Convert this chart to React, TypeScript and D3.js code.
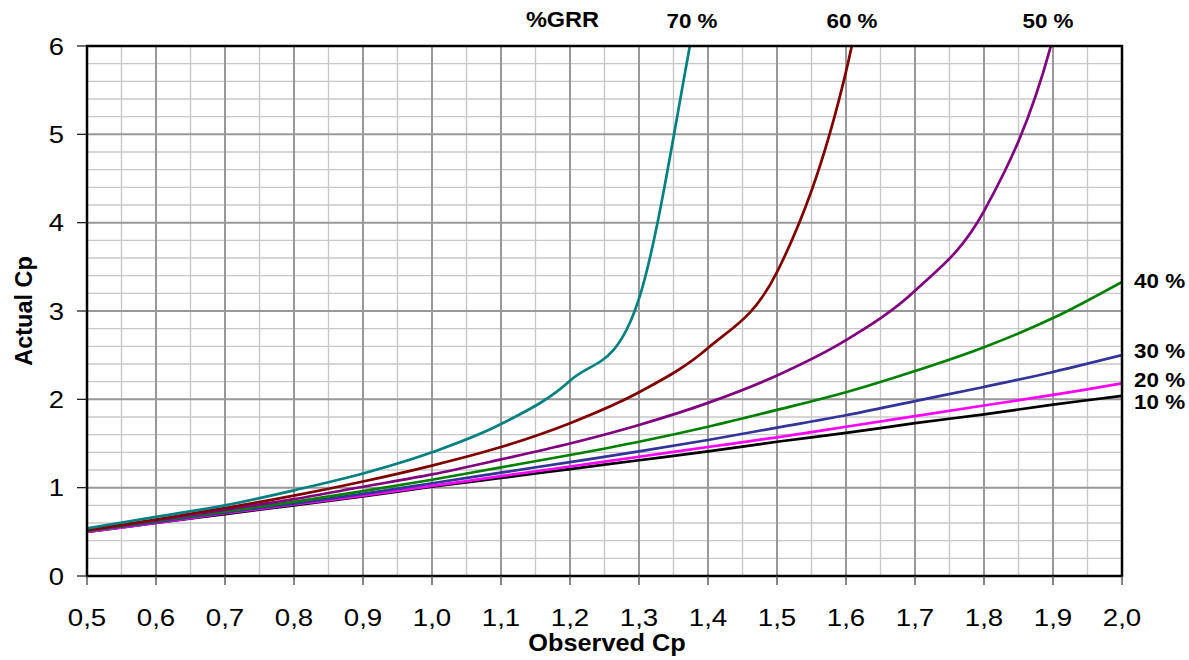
import React from "react";
import * as d3 from "d3";

const observedCp = [0.5, 0.6, 0.7, 0.8, 0.9, 1.0, 1.1, 1.2, 1.3, 1.4, 1.5, 1.6, 1.7, 1.8, 1.9, 2.0];
const xTickLabels = ["0,5", "0,6", "0,7", "0,8", "0,9", "1,0", "1,1", "1,2", "1,3", "1,4", "1,5", "1,6", "1,7", "1,8", "1,9", "2,0"];
const yTickValues = [0, 1, 2, 3, 4, 5, 6];
const yTickLabels = ["0", "1", "2", "3", "4", "5", "6"];

const grr10 = [0.50, 0.60, 0.70, 0.80, 0.90, 1.01, 1.11, 1.21, 1.31, 1.41, 1.52, 1.62, 1.73, 1.83, 1.94, 2.04];
const grr20 = [0.50, 0.60, 0.71, 0.81, 0.91, 1.02, 1.13, 1.24, 1.35, 1.46, 1.57, 1.69, 1.81, 1.93, 2.05, 2.18];
const grr30 = [0.51, 0.61, 0.72, 0.82, 0.93, 1.05, 1.17, 1.29, 1.41, 1.54, 1.68, 1.82, 1.98, 2.14, 2.31, 2.50];
const grr40 = [0.51, 0.62, 0.73, 0.84, 0.96, 1.09, 1.23, 1.37, 1.52, 1.69, 1.88, 2.08, 2.32, 2.59, 2.92, 3.33];
const grr50 = [0.52, 0.63, 0.75, 0.87, 1.01, 1.15, 1.32, 1.50, 1.71, 1.96, 2.27, 2.67, 3.23, 4.13, 6.09, 10];
const grr60 = [0.52, 0.64, 0.77, 0.91, 1.07, 1.25, 1.46, 1.73, 2.08, 2.58, 3.44, 5.71, 10];
const grr70 = [0.54, 0.67, 0.80, 0.97, 1.16, 1.40, 1.72, 2.21, 3.14, 7.04, 10];

const seriesNames = ["10 %", "20 %", "30 %", "40 %", "50 %", "60 %", "70 %"];
const seriesValues = [grr10, grr20, grr30, grr40, grr50, grr60, grr70];
const seriesColors = ["#000000", "#FF00FF", "#333399", "#008000", "#800080", "#800000", "#008080"];

const W = 1189;
const H = 660;
const L = 87, R = 1122, T = 46, B = 576;
const FONT = "'Liberation Sans', Arial, sans-serif";

export default function App() {
  const x = d3.scaleLinear().domain([0.5, 2.0]).range([L, R]);
  const y = d3.scaleLinear().domain([0, 6]).range([B, T]);

  const xMinor = d3.range(0, 31).map((i) => 0.5 + i * 0.05);
  const xMajor = d3.range(0, 16).map((i) => 0.5 + i * 0.1);
  const yMinor = d3.range(0, 31).map((i) => i * 0.2);

  const line = (vals: number[]) =>
    d3
      .line<number>()
      .x((_, i) => x(observedCp[i]))
      .y((v) => y(v))
      .curve(d3.curveCardinal.tension(0))(vals) || "";

  const topLabels = [
    { text: "70 %", cx: 692 },
    { text: "60 %", cx: 852 },
    { text: "50 %", cx: 1048 },
  ];
  const rightLabels = [
    { text: "40 %", by: 288 },
    { text: "30 %", by: 358 },
    { text: "20 %", by: 387 },
    { text: "10 %", by: 409 },
  ];

  return (
    <svg
      width={W}
      height={H}
      style={{ position: "absolute", left: 0, top: 0, background: "#fff" }}
      fontFamily={FONT}
    >
      <defs>
        <clipPath id="plotClip">
          <rect x={L} y={T} width={R - L} height={B - T} />
        </clipPath>
      </defs>
      <rect x={0} y={0} width={W} height={H} fill="#fff" />
      {yMinor.map((v, i) =>
        i % 5 === 0 ? null : (
          <line key={"ym" + i} x1={L} x2={R} y1={y(v)} y2={y(v)} stroke="#c8c8c8" strokeWidth={1.4} />
        )
      )}
      {xMinor.map((v, i) =>
        i % 2 === 0 ? null : (
          <line key={"xm" + i} x1={x(v)} x2={x(v)} y1={T} y2={B} stroke="#c8c8c8" strokeWidth={1.4} />
        )
      )}
      {yTickValues.map((v, i) => (
        <line key={"yM" + i} x1={L} x2={R} y1={y(v)} y2={y(v)} stroke="#989898" strokeWidth={2} />
      ))}
      {xMajor.map((v, i) => (
        <line key={"xM" + i} x1={x(v)} x2={x(v)} y1={T} y2={B} stroke="#989898" strokeWidth={2} />
      ))}
      <g clipPath="url(#plotClip)">
        {seriesValues.map((vals, i) => (
          <path
            key={seriesNames[i]}
            d={line(vals)}
            fill="none"
            stroke={seriesColors[i]}
            strokeWidth={2.7}
            strokeLinejoin="round"
          />
        ))}
      </g>
      <rect x={L} y={T} width={R - L} height={B - T} fill="none" stroke="#000" strokeWidth={2.5} />
      {yTickValues.map((v, i) => (
        <line key={"yt" + i} x1={L - 10} x2={L} y1={y(v)} y2={y(v)} stroke="#222" strokeWidth={1.3} />
      ))}
      {xMajor.map((v, i) => (
        <line key={"xt" + i} x1={x(v)} x2={x(v)} y1={B} y2={B + 9} stroke="#444" strokeWidth={1.3} />
      ))}
      {yTickValues.map((v, i) => (
        <text
          key={"yl" + i}
          transform={`translate(64,${y(v) + 8.7}) scale(1.12,1)`}
          textAnchor="end"
          fontSize={24.5}
          fill="#000"
        >
          {yTickLabels[i]}
        </text>
      ))}
      {xMajor.map((v, i) => (
        <text
          key={"xl" + i}
          transform={`translate(${x(v)},626) scale(1.13,1)`}
          textAnchor="middle"
          fontSize={24.5}
          fill="#000"
        >
          {xTickLabels[i]}
        </text>
      ))}
      <text
        transform={`translate(607,651) scale(1.1,1)`}
        textAnchor="middle"
        fontSize={23}
        fontWeight="bold"
      >
        Observed Cp
      </text>
      <text
        transform={`translate(31.5,311) rotate(-90)`}
        textAnchor="middle"
        fontSize={23.5}
        fontWeight="bold"
      >
        Actual Cp
      </text>
      <text transform={`translate(562.5,27) scale(1.07,1)`} textAnchor="middle" fontSize={22} fontWeight="bold">
        %GRR
      </text>
      {topLabels.map((d) => (
        <text
          key={d.text}
          transform={`translate(${d.cx},28) scale(1.15,1)`}
          textAnchor="middle"
          fontSize={19.5}
          fontWeight="bold"
        >
          {d.text}
        </text>
      ))}
      {rightLabels.map((d) => (
        <text
          key={d.text}
          transform={`translate(1134,${d.by}) scale(1.15,1)`}
          textAnchor="start"
          fontSize={19.5}
          fontWeight="bold"
        >
          {d.text}
        </text>
      ))}
    </svg>
  );
}
